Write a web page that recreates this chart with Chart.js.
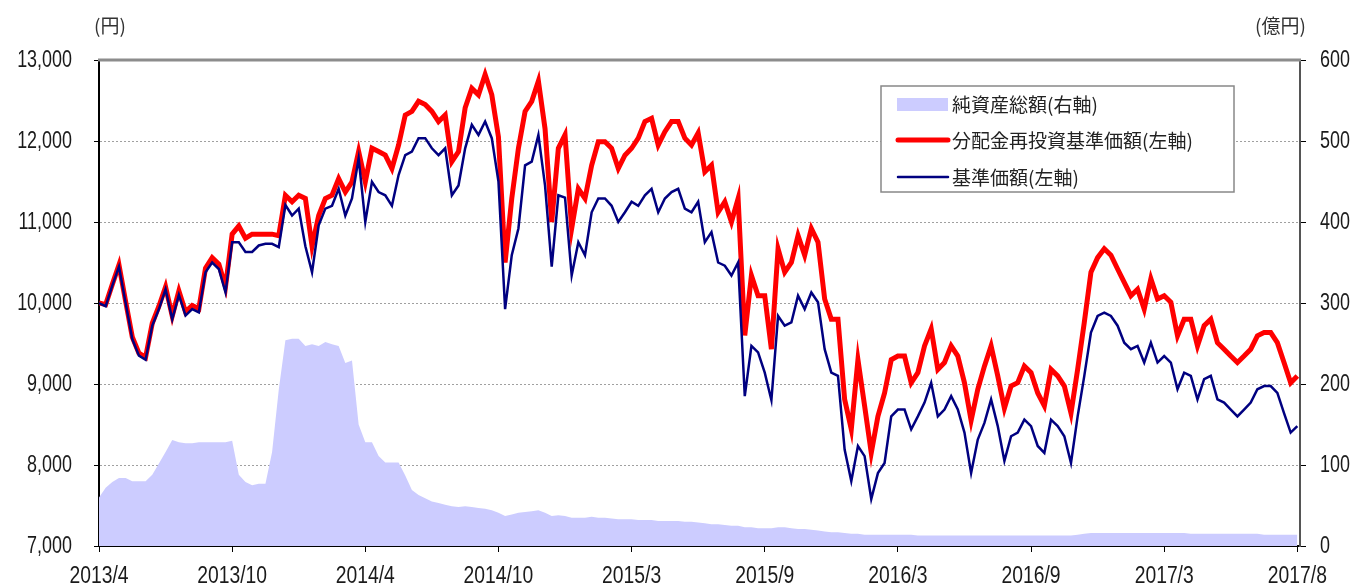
<!DOCTYPE html>
<html lang="ja">
<head>
<meta charset="utf-8">
<title>基準価額・純資産総額の推移</title>
<script src="https://cdn.jsdelivr.net/npm/chart.js@4.4.1/dist/chart.umd.min.js"></script>
<style>
* { margin: 0; padding: 0; box-sizing: border-box; }
body { background: #fff; width: 1358px; height: 587px; overflow: hidden; }
#wrap { position: relative; width: 1358px; height: 587px; }
</style>
</head>
<body>
<div id="wrap"><canvas id="chart" width="1358" height="587"></canvas></div>
<script>
// x tick labels (one every 20 data points)
const tickLabels = ["2013/4", "2013/10", "2014/4", "2014/10", "2015/3", "2015/9", "2016/3", "2016/9", "2017/3", "2017/8"];

// 基準価額 (左軸, 円)
const navValues = [
  10000, 9960, 10215, 10450, 10000, 9555, 9350, 9300, 9720, 9925,
  10170, 9800, 10100, 9845, 9925, 9885, 10380, 10500, 10420, 10130,
  10750, 10750, 10630, 10630, 10710, 10730, 10730, 10690, 11210, 11080,
  11165, 10700, 10380, 10960, 11165, 11200, 11410, 11080, 11290, 11785,
  11000, 11495, 11370, 11330, 11200, 11580, 11825, 11870, 12035, 12035,
  11910, 11825, 11910, 11330, 11450, 11910, 12200, 12075, 12240, 12035,
  11500, 9925, 10590, 10920, 11700, 11745, 12075, 11450, 10450, 11330,
  11300, 10340, 10750, 10590, 11120, 11290, 11290, 11200, 11000, 11120,
  11250, 11200, 11330, 11410, 11120, 11290, 11370, 11410, 11165, 11120,
  11250, 10750, 10875, 10500, 10460, 10340, 10500, 8850, 9470, 9390,
  9140, 8800, 9840, 9720, 9760, 10090, 9925, 10130, 10010, 9430,
  9140, 9100, 8190, 7800, 8235, 8110, 7580, 7900, 8025, 8600,
  8685, 8685, 8440, 8600, 8770, 9015, 8600, 8685, 8850, 8685,
  8400, 7900, 8315, 8520, 8810, 8480, 8050, 8355, 8400, 8560,
  8480, 8235, 8150, 8560, 8480, 8355, 8025, 8600, 9100, 9635,
  9840, 9880, 9840, 9720, 9510, 9430, 9470, 9265, 9510, 9265,
  9345, 9265, 8935, 9140, 9100, 8810, 9060, 9100, 8810, 8770,
  8685, 8600, 8685, 8770, 8935, 8975, 8975, 8890, 8640, 8400,
  8480
];

// 分配金再投資基準価額 (左軸, 円)
const reinvestValues = [
  10000, 9980, 10230, 10470, 10020, 9580, 9380, 9330, 9750, 9960,
  10200, 9840, 10150, 9890, 9970, 9930, 10430, 10560, 10480, 10200,
  10850, 10950, 10800, 10850, 10850, 10850, 10850, 10830, 11330, 11250,
  11330, 11290, 10700, 11080, 11290, 11330, 11535, 11370, 11495, 11870,
  11495, 11910, 11870, 11825, 11660, 11950, 12320, 12365, 12490, 12450,
  12365, 12240, 12320, 11745, 11870, 12410, 12650, 12570, 12820, 12570,
  12050, 10500, 11290, 11910, 12365, 12490, 12740, 12150, 11000, 11910,
  12075, 10920, 11410, 11290, 11700, 11990, 11990, 11910, 11660, 11825,
  11910, 12035, 12240, 12280, 11950, 12115, 12240, 12240, 12035, 11950,
  12100, 11620, 11700, 11120, 11250, 11000, 11290, 9600, 10340, 10090,
  10090, 9430, 10670, 10380, 10500, 10835, 10590, 10920, 10750, 10050,
  9800, 9800, 8810, 8440, 9300, 8730, 8150, 8600, 8890, 9300,
  9345, 9345, 9015, 9140, 9470, 9680, 9180, 9265, 9470, 9345,
  9015, 8550, 8935, 9220, 9470, 9100, 8700, 8975, 9015, 9220,
  9140, 8890, 8730, 9180, 9100, 8975, 8640, 9180, 9760, 10380,
  10560, 10670, 10590, 10420, 10256, 10090, 10170, 9925, 10300, 10050,
  10090, 10010, 9595, 9800, 9800, 9470, 9720, 9800, 9510, 9430,
  9345, 9265, 9345, 9430, 9595, 9635, 9635, 9510, 9265, 9015,
  9100
];

// 純資産総額 (右軸, 億円)
const assetValues = [
  60, 72, 79, 84, 84, 80, 80, 80, 88, 102,
  116, 131, 128, 127, 127, 128, 128, 128, 128, 128,
  130, 88, 79, 75, 77, 77, 116, 193, 254, 256,
  256, 247, 249, 247, 252, 249, 247, 226, 229, 150,
  128, 128, 111, 103, 103, 103, 87, 69, 63, 59,
  55, 53, 51, 49, 48, 49, 48, 47, 46, 44,
  41, 37, 39, 41, 42, 43, 44, 41, 37, 38,
  37, 35, 35, 35, 36, 35, 35, 34, 33, 33,
  33, 32, 32, 32, 31, 31, 31, 31, 30, 30,
  29, 28, 27, 27, 26, 25, 25, 23, 23, 22,
  22, 22, 23, 23, 22, 21, 21, 20, 19, 18,
  17, 17, 16, 15, 15, 14, 14, 14, 14, 14,
  14, 14, 14, 13, 13, 13, 13, 13, 13, 13,
  13, 13, 13, 13, 13, 13, 13, 13, 13, 13,
  13, 13, 13, 13, 13, 13, 13, 14, 15, 16,
  16, 16, 16, 16, 16, 16, 16, 16, 16, 16,
  16, 16, 16, 16, 15, 15, 15, 15, 15, 15,
  15, 15, 15, 15, 15, 14, 14, 14, 14, 14,
  14
];

const tickFont = "'Liberation Sans', Arial, sans-serif";
const jpFont = "'Noto Sans CJK JP', 'Noto Sans', sans-serif";

const toPoints = arr => arr.map((v, i) => ({ x: i, y: v }));

// condensed tick text (the original uses a narrow font)
function narrowText(ctx, text, x, y, align, size, sx) {
  ctx.save();
  ctx.translate(x, y);
  ctx.scale(sx, 1);
  ctx.font = size + "px " + tickFont;
  ctx.textAlign = align;
  ctx.textBaseline = "middle";
  ctx.fillStyle = "#1a1a1a";
  ctx.fillText(text, 0, 0);
  ctx.restore();
}

// frame line, tick labels, unit labels and legend box
const extras = {
  id: "extras",
  afterDraw(chart) {
    const { ctx, chartArea, scales } = chart;
    ctx.save();
    // gray frame at the top of the plot
    ctx.strokeStyle = "#8c8c8c";
    ctx.lineWidth = 3;
    ctx.beginPath();
    ctx.moveTo(chartArea.left - 1, chartArea.top);
    ctx.lineTo(chartArea.right + 1, chartArea.top);
    ctx.stroke();

    // tick labels
    scales.y.ticks.forEach(t => {
      narrowText(ctx, t.value.toLocaleString("en-US"), 72, scales.y.getPixelForValue(t.value) + 1, "right", 23, 0.78);
    });
    scales.y2.ticks.forEach(t => {
      narrowText(ctx, String(t.value), 1320, scales.y2.getPixelForValue(t.value) + 1, "left", 23, 0.78);
    });
    tickLabels.forEach((lab, k) => {
      narrowText(ctx, lab, scales.x.getPixelForValue(k * 20), 577, "center", 23, 0.84);
    });

    // units
    ctx.fillStyle = "#333";
    ctx.font = "19px " + jpFont;
    ctx.textBaseline = "middle";
    ctx.textAlign = "left";
    ctx.fillText("(円)", 94, 26);
    ctx.fillText("(億円)", 1255, 26);

    // legend
    const bx = 881, by = 86, bw = 353, bh = 106;
    ctx.fillStyle = "#fff";
    ctx.fillRect(bx, by, bw, bh);
    ctx.strokeStyle = "#888";
    ctx.lineWidth = 1.5;
    ctx.strokeRect(bx, by, bw, bh);
    const rows = [104, 140, 177];
    const order = [2, 1, 0];
    ctx.font = "19px " + jpFont;
    ctx.textAlign = "left";
    order.forEach((di, r) => {
      const ds = chart.data.datasets[di];
      const y = rows[r];
      if (di === 2) {
        ctx.fillStyle = ds.backgroundColor;
        ctx.fillRect(897, y - 6, 51, 13);
      } else {
        ctx.strokeStyle = ds.borderColor;
        ctx.lineWidth = ds.borderWidth;
        ctx.lineCap = "round";
        ctx.beginPath();
        ctx.moveTo(898, y);
        ctx.lineTo(948, y);
        ctx.stroke();
      }
      ctx.fillStyle = "#222";
      ctx.fillText(ds.label, 952, y + 1);
    });
    ctx.restore();
  }
};

new Chart(document.getElementById("chart"), {
  type: "line",
  data: {
    datasets: [
      {
        label: "基準価額(左軸)",
        data: toPoints(navValues),
        yAxisID: "y",
        borderColor: "#000080",
        borderWidth: 2.5,
        pointRadius: 0,
        fill: false,
        order: 0
      },
      {
        label: "分配金再投資基準価額(左軸)",
        data: toPoints(reinvestValues),
        yAxisID: "y",
        borderColor: "#ff0000",
        borderWidth: 5,
        pointRadius: 0,
        fill: false,
        order: 1
      },
      {
        label: "純資産総額(右軸)",
        data: toPoints(assetValues),
        yAxisID: "y2",
        borderWidth: 0,
        borderColor: "rgba(0,0,0,0)",
        backgroundColor: "#ccccff",
        pointRadius: 0,
        fill: "origin",
        order: 2
      }
    ]
  },
  options: {
    responsive: false,
    devicePixelRatio: 1,
    animation: false,
    layout: { padding: { top: 60, left: 0, right: 0, bottom: 0 } },
    plugins: { legend: { display: false }, tooltip: { enabled: false } },
    scales: {
      x: {
        type: "linear",
        min: 0,
        max: 180.4,
        afterBuildTicks: s => { s.ticks = tickLabels.map((_, k) => ({ value: k * 20 })); },
        afterFit: s => { s.height = 41; },
        ticks: { display: false },
        grid: { drawOnChartArea: false, color: "#000", tickLength: 6 },
        border: { color: "#000", width: 2 }
      },
      y: {
        position: "left",
        min: 7000,
        max: 13000,
        afterFit: s => { s.width = 99; },
        ticks: { display: false, stepSize: 1000 },
        grid: { color: "#a0a0a0", lineWidth: 1, tickLength: 5, tickColor: "#000" },
        border: { color: "#000", width: 2, dash: [2, 2] }
      },
      y2: {
        position: "right",
        min: 0,
        max: 600,
        afterFit: s => { s.width = 58; },
        ticks: { display: false, stepSize: 100 },
        grid: { drawOnChartArea: false, color: "#000", tickLength: 6 },
        border: { color: "#555", width: 2 }
      }
    }
  },
  plugins: [extras]
});
</script>
</body>
</html>
